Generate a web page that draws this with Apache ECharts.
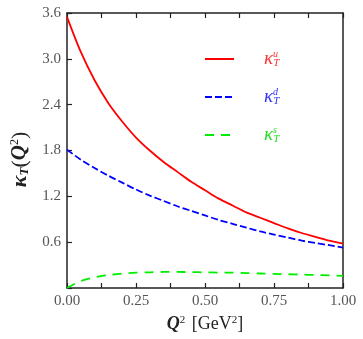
<!DOCTYPE html>
<html><head><meta charset="utf-8">
<script src="https://cdn.jsdelivr.net/npm/echarts@6/dist/echarts.min.js"></script>
<style>html,body{margin:0;padding:0;background:#fff}#c{width:363px;height:339px}</style>
</head><body><div id="c"></div>
<script>
const q2 = [0, 0.05, 0.1, 0.15, 0.2, 0.25, 0.3, 0.35, 0.4, 0.45, 0.5, 0.55, 0.6, 0.65, 0.7, 0.75, 0.8, 0.85, 0.9, 0.95, 1.0];
const kappaU = [3.55, 3.09, 2.72, 2.42, 2.18, 1.97, 1.80, 1.65, 1.52, 1.39, 1.28, 1.17, 1.08, 0.99, 0.92, 0.85, 0.78, 0.72, 0.67, 0.62, 0.58];
const kappaD = [1.81, 1.68, 1.57, 1.47, 1.38, 1.29, 1.21, 1.14, 1.07, 1.01, 0.95, 0.89, 0.84, 0.79, 0.74, 0.70, 0.66, 0.62, 0.59, 0.56, 0.53];
const kappaS = [0.0, 0.09, 0.14, 0.17, 0.19, 0.20, 0.205, 0.21, 0.21, 0.208, 0.205, 0.202, 0.2, 0.195, 0.19, 0.185, 0.18, 0.175, 0.17, 0.165, 0.16];
const xTicks = [0, 0.25, 0.5, 0.75, 1.0];
const yTicks = [0.6, 1.2, 1.8, 2.4, 3.0, 3.6];
const flavours = ['u', 'd', 's'];
const colors = ['#ff0000', '#0000ff', '#00ee00'];

const serif = 'Liberation Serif';
function pairs(ys){ return q2.map((x,i)=>[x, ys[i]]); }
const lblColor = ['#ff3333', '#3333ff', '#22dd22'];

const chart = echarts.init(document.getElementById('c'), null, {renderer:'canvas'});
const rich = {};
flavours.forEach((f,i)=>{
  rich['pad'+i] = {width: 25};
  rich['k'+i] = {fontFamily: serif, fontStyle:'italic', fontSize: 19, color: lblColor[i]};
  rich['sup'+i] = {fontFamily: serif, fontStyle:'italic', fontSize: 10, color: lblColor[i], verticalAlign:'top', padding:[0,0,10,0], width: 0.01, align:'left'};
  rich['sub'+i] = {fontFamily: serif, fontStyle:'italic', fontSize: 11, color: lblColor[i], verticalAlign:'bottom', padding:[8,0,0,0]};
});
const tickStyle = {show:true, inside:true, length:5, lineStyle:{color:'#222', width:1.2}};
chart.setOption({
  animation:false,
  grid:{left:67, right:20, top:13, bottom:51},
  legend:{
    orient:'vertical', left:204, top:49, padding:0, itemWidth:29, itemHeight:14, itemGap:18,
    itemStyle:{opacity:0},
    data: flavours.map((f,i)=>({name:f})),
    formatter: function(name){ const i = flavours.indexOf(name); return '{pad'+i+'|}{k'+i+'|κ}{sup'+i+'|'+name+'}{sub'+i+'|T}'; },
    textStyle:{rich: rich}
  },
  xAxis:[{
    type:'value', min:0, max:1, interval:0.125,
    axisLine:{show:true, onZero:false, lineStyle:{color:'#222', width:1.5}},
    axisTick: tickStyle, splitLine:{show:false},
    axisLabel:{fontFamily:serif, fontSize:15, color:'#555', margin:6,
      formatter: v => xTicks.some(t=>Math.abs(t-v)<1e-9) ? v.toFixed(2) : ''},
    name:'{q|Q}{s|2}  {r|[GeV}{s|2}{r|]}', nameLocation:'middle', nameGap:27,
    nameTextStyle:{rich:{
      q:{fontFamily:serif, fontStyle:'italic', fontWeight:'bold', fontSize:18, color:'#222'},
      s:{fontFamily:serif, fontSize:11, color:'#222', verticalAlign:'top', padding:[0,0,8,0]},
      r:{fontFamily:serif, fontSize:18, color:'#222'}
    }}
  },{
    type:'value', position:'top', min:0, max:1, interval:0.125,
    axisLine:{show:true, onZero:false, lineStyle:{color:'#222', width:1.5}},
    axisTick: tickStyle, axisLabel:{show:false}, splitLine:{show:false}
  }],
  yAxis:[{
    type:'value', min:0, max:3.6, interval:0.6,
    axisLine:{show:true, onZero:false, lineStyle:{color:'#222', width:1.5}},
    axisTick: tickStyle, splitLine:{show:false},
    axisLabel:{fontFamily:serif, fontSize:15, color:'#555', margin:6,
      formatter: v => yTicks.some(t=>Math.abs(t-v)<1e-9) ? v.toFixed(1) : ''},
    name:'{k|κ}{t|T}{r|(}{q|Q}{s|2}{r|)}', nameLocation:'middle', nameGap:34, nameRotate:90,
    nameTextStyle:{padding:[0,18,0,0], rich:{
      k:{fontFamily:serif, fontStyle:'italic', fontWeight:'bold', fontSize:22, color:'#222'},
      t:{fontFamily:serif, fontStyle:'italic', fontWeight:'bold', fontSize:13, color:'#222', verticalAlign:'bottom', padding:[9,0,0,0]},
      q:{fontFamily:serif, fontStyle:'italic', fontWeight:'bold', fontSize:21, color:'#222'},
      s:{fontFamily:serif, fontSize:12, color:'#222', verticalAlign:'top', padding:[0,0,11,0]},
      r:{fontFamily:serif, fontSize:22, color:'#222'}
    }}
  },{
    type:'value', position:'right', min:0, max:3.6, interval:0.6,
    axisLine:{show:true, onZero:false, lineStyle:{color:'#222', width:1.5}},
    axisTick:{show:false}, axisLabel:{show:false}, splitLine:{show:false}
  }],
  series:[
    {name:'u', type:'line', smooth:0.3, symbol:'none', data:pairs(kappaU), lineStyle:{color:colors[0], width:1.8}, itemStyle:{color:colors[0]}},
    {name:'d', type:'line', smooth:0.3, symbol:'none', data:pairs(kappaD), lineStyle:{color:colors[1], width:1.8, type:[7,3]}, itemStyle:{color:colors[1]}},
    {name:'s', type:'line', smooth:0.3, symbol:'none', data:pairs(kappaS), lineStyle:{color:colors[2], width:1.8, type:[9,7]}, itemStyle:{color:colors[2]}}
  ]
});
</script></body></html>
